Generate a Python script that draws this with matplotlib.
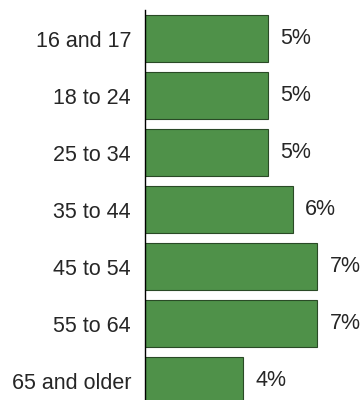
import matplotlib.pyplot as plt

# Age groups and their shares (percent)
groups = ['16 and 17', '18 to 24', '25 to 34', '35 to 44', '45 to 54', '55 to 64', '65 and older']
values = [5, 5, 5, 6, 7, 7, 4]
labels = ['5%', '5%', '5%', '6%', '7%', '7%', '4%']

plt.rcParams['font.family'] = ['Liberation Sans', 'DejaVu Sans']

fig = plt.figure(figsize=(3.63, 4.0), dpi=100)
ax = fig.add_axes([145 / 363, 0, 218 / 363, 390 / 400])

pos = list(range(len(groups)))
ax.barh(pos, values, height=0.825, color='#4f9149', edgecolor='#2a4a26', linewidth=0.8)

for p, v, lab in zip(pos, values, labels):
    ax.text(v + 0.5, p, lab, va='center', ha='left', fontsize=15.5, color='#262626')

ax.set_xlim(0, 218 / 24.6)
ax.set_ylim(6.34, -0.5)
ax.set_yticks(pos)
ax.set_yticklabels(groups, fontsize=15.5, color='#262626')
ax.tick_params(axis='y', length=0, pad=10)
ax.set_xticks([])
for s in ['top', 'right', 'bottom']:
    ax.spines[s].set_visible(False)
ax.spines['left'].set_linewidth(1.0)

fig.savefig('out.png', dpi=100)
